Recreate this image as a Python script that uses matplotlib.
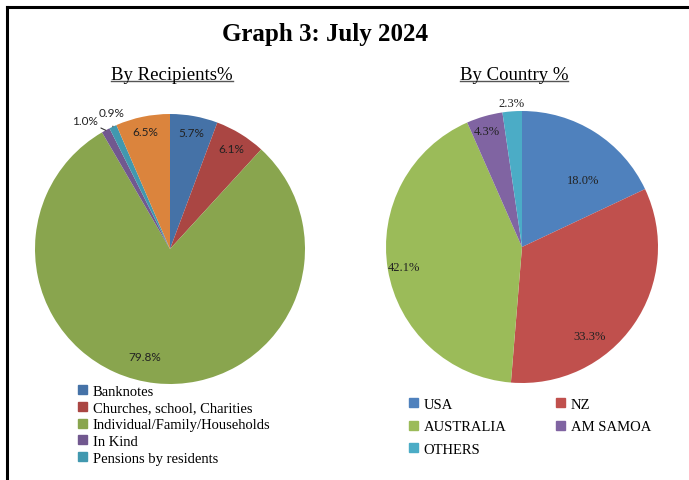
import numpy as np
import matplotlib.pyplot as plt
from matplotlib.lines import Line2D

# Data
recip_labels = ["Banknotes", "Churches, school, Charities", "Individual/Family/Households",
                "In Kind", "Pensions by residents", "Other"]
recip_values = [5.7, 6.1, 79.8, 1.0, 0.9, 6.5]
recip_colors = ["#4572A7", "#AA4643", "#89A54E", "#71588F", "#4198AF", "#DB843D"]

country_labels = ["USA", "NZ", "AUSTRALIA", "AM SAMOA", "OTHERS"]
country_values = [18.0, 33.3, 42.1, 4.3, 2.3]
country_colors = ["#4F81BD", "#C0504D", "#9BBB59", "#8064A2", "#4BACC6"]

W, H = 689, 481
fig = plt.figure(figsize=(W / 100, H / 100), dpi=100)

def px_axes(left, top, size):
    # axes placed by pixel box
    return fig.add_axes([left / W, 1 - (top + size) / H, size / W, size / H])

def mid_angles(values):
    v = np.array(values, dtype=float)
    ends = 90 - np.cumsum(v) / v.sum() * 360
    starts = ends + v / v.sum() * 360
    return (starts + ends) / 2

# ---- left pie
ax1 = px_axes(35, 115, 270)
ax1.pie(recip_values, colors=recip_colors, startangle=90, counterclock=False,
        radius=1, wedgeprops=dict(linewidth=0))
ax1.set_xlim(-1, 1); ax1.set_ylim(-1, 1)
ang = mid_angles(recip_values)
# (label radius, angle nudge) per slice; the two thin ones go outside with leaders
lab_pos = [(0.88, 0), (0.87, 0), (0.82, -7), (1.14, 5), (1.10, -2), (0.89, 0)]
for i, v in enumerate(recip_values):
    r, d = lab_pos[i]
    a = np.radians(ang[i] + d)
    x, y = r * np.cos(a), r * np.sin(a)
    txt = "%.1f%%" % v
    if r > 1:
        a0 = np.radians(ang[i])
        ax1.annotate(txt, xy=(1.0 * np.cos(a0), 1.0 * np.sin(a0)), xytext=(x, y),
                     ha="center", va="center", fontsize=8.5, family="Lato", color="#222222",
                     arrowprops=dict(arrowstyle="-", color="#333333", lw=0.8,
                                     shrinkA=4, shrinkB=0))
    else:
        ax1.text(x, y, txt, ha="center", va="center", fontsize=8.5, family="Lato", color="#222222")

# ---- right pie
ax2 = px_axes(386, 112, 272)
ax2.pie(country_values, colors=country_colors, startangle=90, counterclock=False,
        radius=1, wedgeprops=dict(linewidth=0))
ax2.set_xlim(-1, 1); ax2.set_ylim(-1, 1)
ang = mid_angles(country_values)
lab_pos = [(0.67, -10), (0.82, -18), (0.88, 0), (0.89, 1), (1.06, 0)]
for i, v in enumerate(country_values):
    r, d = lab_pos[i]
    a = np.radians(ang[i] + d)
    ax2.text(r * np.cos(a), r * np.sin(a), "%.1f%%" % v, ha="center", va="center",
             fontsize=9, family="Liberation Serif", color="#222222")

# ---- titles
fig.text(325 / W, 1 - 35 / H, "Graph 3: July 2024", ha="center", va="center",
         fontsize=18, fontweight="bold", family="Liberation Serif")
subs = [fig.text(172 / W, 1 - 75 / H, "By Recipients%", ha="center", va="center",
                 fontsize=13.5, family="Liberation Serif"),
        fig.text(514 / W, 1 - 75 / H, "By Country %", ha="center", va="center",
                 fontsize=13.5, family="Liberation Serif")]
fig.canvas.draw()
rend = fig.canvas.get_renderer()
for t in subs:
    bb = t.get_window_extent(rend).transformed(fig.transFigure.inverted())
    fig.add_artist(Line2D([bb.x0, bb.x1], [bb.y0 + 1.5 / H, bb.y0 + 1.5 / H],
                          transform=fig.transFigure, color="#555555", lw=1))

# ---- legends
h1 = [plt.Rectangle((0, 0), 1, 1, color=c) for c in recip_colors[:5]]
fig.legend(h1, recip_labels[:5], loc="upper left", bbox_to_anchor=(78 / W, 1 - 386 / H),
           frameon=False, prop=dict(family="Liberation Serif", size=10.5),
           handlelength=0.6, handleheight=0.6, handletextpad=0.4, labelspacing=0.25,
           borderpad=0, borderaxespad=0)
# legend fills row by row in the reference, matplotlib fills by column
order = [0, 2, 4, 1, 3]
h2 = [plt.Rectangle((0, 0), 1, 1, color=country_colors[i]) for i in order]
fig.legend(h2, [country_labels[i] for i in order], loc="upper left",
           bbox_to_anchor=(409 / W, 1 - 399 / H),
           ncol=2, frameon=False, prop=dict(family="Liberation Serif", size=10.5),
           handlelength=0.6, handleheight=0.6, handletextpad=0.4, labelspacing=0.65,
           columnspacing=3.4, borderpad=0, borderaxespad=0)

# ---- frame lines (top and left)
fig.add_artist(Line2D([7 / W, 1], [1 - 8 / H, 1 - 8 / H], transform=fig.transFigure,
                      color="black", lw=2.2))
fig.add_artist(Line2D([7 / W, 7 / W], [0, 1 - 8 / H], transform=fig.transFigure,
                      color="black", lw=2.2))

fig.savefig("out.png", dpi=100)
